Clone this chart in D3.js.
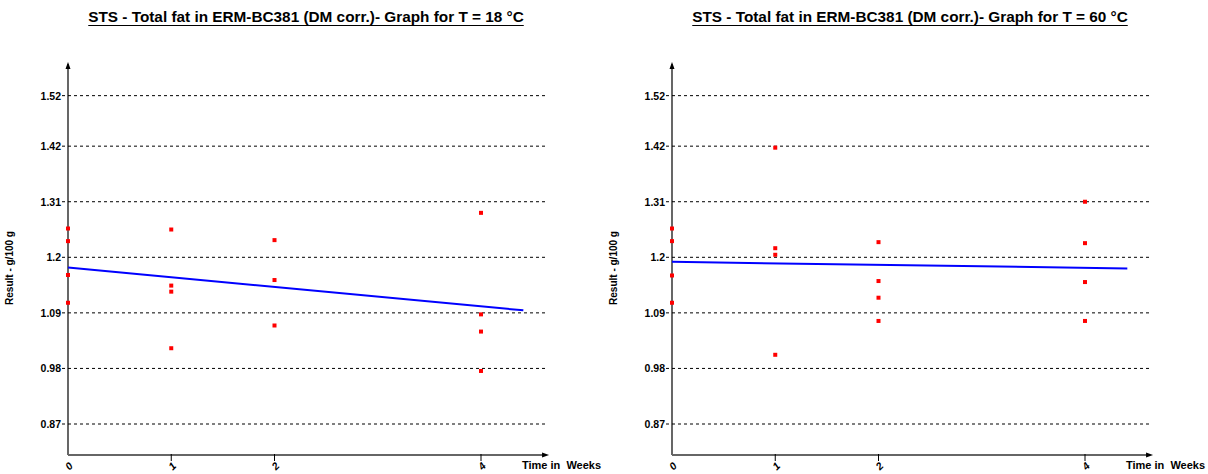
<!DOCTYPE html>
<html>
<head>
<meta charset="utf-8">
<script src="https://cdn.jsdelivr.net/npm/d3@7"></script>
<style>
  body { margin: 0; background: #fff; }
  svg { display: block; font-family: Arial, "Liberation Sans", sans-serif; }
  .tick-lbl { font-size: 10.5px; font-weight: bold; }
</style>
</head>
<body>
<div id="chart"></div>
<script>
// values
var yTicks = [0.87, 0.98, 1.09, 1.2, 1.31, 1.42, 1.52];
var xTicks = [0, 1, 2, 4];

// T = 18 °C
var weeks18 = [0, 0, 0, 0, 1, 1, 1, 1, 2, 2, 2, 4, 4, 4, 4];
var result18 = [1.257, 1.232, 1.165, 1.110, 1.255, 1.144, 1.132, 1.020, 1.234, 1.155, 1.065, 1.288, 1.087, 1.053, 0.975];

// T = 60 °C
var weeks60 = [0, 0, 0, 0, 1, 1, 1, 1, 2, 2, 2, 2, 4, 4, 4, 4];
var result60 = [1.257, 1.232, 1.164, 1.110, 1.417, 1.218, 1.205, 1.007, 1.230, 1.153, 1.120, 1.074, 1.310, 1.228, 1.151, 1.074];

// regression lines (start / end)
var fitWeeks = [0, 4.41];
var fit18 = [1.180, 1.095];
var fit60 = [1.191, 1.178];

var titles = [
  "STS - Total fat in ERM-BC381 (DM corr.)- Graph for T = 18 °C",
  "STS - Total fat in ERM-BC381 (DM corr.)- Graph for T = 60 °C"
];

var W = 1208, H = 474;
var svg = d3.select('#chart').append('svg')
  .attr('width', W).attr('height', H);

function drawPanel(offset, title, wk, res, fit) {
  var g = svg.append('g').attr('transform', 'translate(' + offset + ',0)');

  var x = d3.scaleLinear().domain([0, 4]).range([68, 481]);
  var y = d3.scaleLinear().domain([0.87, 1.2]).range([424, 257.3]);
  var xEnd = x(4.63), yTop = 64, yBot = 455;

  // title, fitted to the reference width
  var t = g.append('text')
    .attr('x', 306).attr('y', 22)
    .attr('text-anchor', 'middle')
    .style('font-size', '14px').style('font-weight', 'bold')
    .text(title);
  var w = t.node().getComputedTextLength();
  t.style('font-size', (14 * 436 / w) + 'px');
  var bb = t.node().getBBox();
  g.append('line')
    .attr('x1', bb.x).attr('x2', bb.x + bb.width)
    .attr('y1', 25.5).attr('y2', 25.5)
    .attr('stroke', '#000').attr('stroke-width', 1.2);

  // grid
  g.selectAll('.grid').data(yTicks).enter().append('line')
    .attr('class', 'grid')
    .attr('x1', 62).attr('x2', xEnd)
    .attr('y1', function(d) { return y(d); })
    .attr('y2', function(d) { return y(d); })
    .attr('stroke', '#000').attr('stroke-width', 1)
    .attr('stroke-dasharray', '3,3');

  g.selectAll('.ylbl').data(yTicks).enter().append('text')
    .attr('class', 'tick-lbl')
    .attr('x', 61)
    .attr('y', function(d) { return y(d) + 4; })
    .attr('text-anchor', 'end')
    .text(function(d) { return d; });

  // y axis with arrow
  g.append('line')
    .attr('x1', 68).attr('x2', 68).attr('y1', yTop).attr('y2', yBot)
    .attr('stroke', '#000').attr('stroke-width', 1.2);
  g.append('path')
    .attr('d', 'M68,' + (yTop - 2) + 'L65.5,' + (yTop + 5) + 'L70.5,' + (yTop + 5) + 'Z')
    .attr('fill', '#000');

  // x axis with arrow
  g.append('line')
    .attr('x1', 68).attr('x2', xEnd).attr('y1', yBot).attr('y2', yBot)
    .attr('stroke', '#666').attr('stroke-width', 2);
  g.append('path')
    .attr('d', 'M' + (xEnd + 3) + ',' + yBot + 'L' + (xEnd - 4) + ',' + (yBot - 2.5) + 'L' + (xEnd - 4) + ',' + (yBot + 2.5) + 'Z')
    .attr('fill', '#000');

  g.selectAll('.xtick').data(xTicks.slice(1)).enter().append('line')
    .attr('x1', function(d) { return x(d); })
    .attr('x2', function(d) { return x(d); })
    .attr('y1', yBot - 1).attr('y2', yBot + 6)
    .attr('stroke', '#000');

  g.selectAll('.xlbl').data(xTicks).enter().append('text')
    .attr('class', 'tick-lbl')
    .attr('transform', function(d) { return 'translate(' + (x(d) + 1) + ',' + (yBot + 11) + ') rotate(-45)'; })
    .attr('text-anchor', 'middle')
    .attr('dy', '0.35em')
    .style('font-style', 'italic')
    .text(function(d) { return d; });

  g.append('text')
    .attr('x', 522).attr('y', 469)
    .style('font-size', '11px').style('font-weight', 'bold')
    .style('white-space', 'pre')
    .text('Time in  Weeks');

  g.append('text')
    .attr('transform', 'translate(13,268) rotate(-90)')
    .attr('text-anchor', 'middle')
    .style('font-size', '10px').style('font-weight', 'bold')
    .text('Result - g/100 g');

  // regression line
  var line = d3.line()
    .x(function(d) { return x(d[0]); })
    .y(function(d) { return y(d[1]); });
  g.append('path')
    .datum(d3.zip(fitWeeks, fit))
    .attr('d', line)
    .attr('fill', 'none')
    .attr('stroke', '#0000ff').attr('stroke-width', 2);

  // measurements
  g.selectAll('.pt').data(d3.zip(wk, res)).enter().append('rect')
    .attr('x', function(d) { return x(d[0]) - 2; })
    .attr('y', function(d) { return y(d[1]) - 2; })
    .attr('width', 4).attr('height', 4)
    .attr('fill', '#ff0000');
}

drawPanel(0, titles[0], weeks18, result18, fit18);
drawPanel(604, titles[1], weeks60, result60, fit60);
</script>
</body>
</html>
